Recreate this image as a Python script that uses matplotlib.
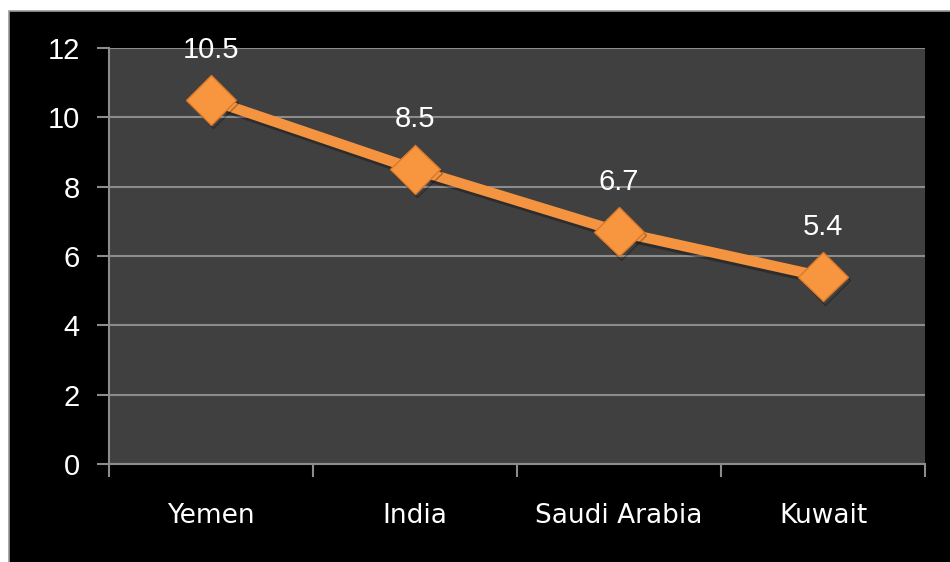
import matplotlib
matplotlib.use("Agg")
import matplotlib.pyplot as plt
from matplotlib.patches import Rectangle
import matplotlib.patheffects as pe

categories = ["Yemen", "India", "Saudi Arabia", "Kuwait"]
values = [10.5, 8.5, 6.7, 5.4]
yticks = [0, 2, 4, 6, 8, 10, 12]

W, H = 950, 562
fig = plt.figure(figsize=(W / 100, H / 100), dpi=100, facecolor="white")
bg = Rectangle((9 / W, -0.01), 1.02 - 9 / W, 1.01 - 11 / H, transform=fig.transFigure,
               facecolor="black", edgecolor="#9a9a9a", linewidth=1.2, zorder=-10)
fig.add_artist(bg)

left, right, top, bottom = 109, 925, 48, 464
ax = fig.add_axes([left / W, 1 - bottom / H, (right - left) / W, (bottom - top) / H])
ax.set_zorder(1)
ax.set_facecolor("#404040")

x = list(range(len(categories)))
ax.plot(x, values, color="#F59440", linewidth=7.5, marker="D", markersize=25,
        markerfacecolor="#F7963F", markeredgecolor="#D9792A", markeredgewidth=1,
        solid_capstyle="butt", zorder=3,
        path_effects=[pe.SimpleLineShadow(offset=(1.5, -2.5), shadow_color="black", alpha=0.3), pe.Normal()])

for xi, v in zip(x, values):
    ax.annotate(f"{v:g}", (xi, v), xytext=(0, 36), textcoords="offset points",
                ha="center", va="center", color="white", fontsize=21,
                family="Liberation Sans")

ax.set_xlim(-0.5, len(categories) - 0.5)
ax.set_ylim(0, 12)
ax.set_yticks(yticks)
ax.set_yticklabels([str(t) for t in yticks], family="Liberation Sans", fontsize=21, color="white")
ax.yaxis.grid(True, color="#8c8c8c", linewidth=1.5)
ax.set_axisbelow(True)

ax.set_xticks(x)
ax.set_xticklabels(categories, fontsize=19, color="white", family="DejaVu Sans")
ax.set_xticks([i - 0.5 for i in range(len(categories) + 1)], minor=True)
ax.tick_params(axis="x", which="major", length=0, pad=28)
ax.tick_params(axis="x", which="minor", length=9, width=1.5, color="#8c8c8c", direction="out")
ax.tick_params(axis="y", length=9, width=1.5, color="#8c8c8c", pad=12)

for s in ["top", "right"]:
    ax.spines[s].set_visible(False)
for s in ["left", "bottom"]:
    ax.spines[s].set_color("#8c8c8c")
    ax.spines[s].set_linewidth(1.5)

fig.savefig("out.png", dpi=100, facecolor="white")
